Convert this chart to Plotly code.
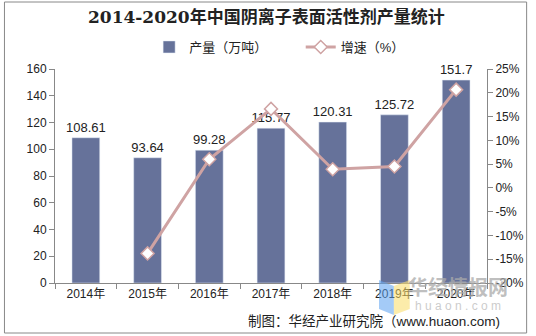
import plotly.graph_objects as go

years = ["2014年", "2015年", "2016年", "2017年", "2018年", "2019年", "2020年"]
output = [108.61, 93.64, 99.28, 115.77, 120.31, 125.72, 151.7]
output_labels = ["108.61", "93.64", "99.28", "115.77", "120.31", "125.72", "151.7"]
growth_years = ["2015年", "2016年", "2017年", "2018年", "2019年", "2020年"]
growth = [-13.78, 6.02, 16.61, 3.92, 4.50, 20.66]
pct_ticks = [-20, -15, -10, -5, 0, 5, 10, 15, 20, 25]
pct_labels = ["-20%", "-15%", "-10%", "-5%", "0%", "5%", "10%", "15%", "20%", "25%"]

BAR = "#66729A"
LINE = "#CFA3A3"
FONT = "Liberation Sans, Arial, Noto Sans CJK SC, sans-serif"

fig = go.Figure()
fig.add_trace(go.Bar(
    x=years, y=output, name="产量（万吨）", marker_color=BAR,
    text=output_labels, textposition="outside", cliponaxis=False, constraintext="none",
    textfont=dict(size=13, color="#222", family=FONT), legend="legend",
))
fig.add_trace(go.Scatter(
    x=growth_years, y=growth, name="增速（%）", yaxis="y2", mode="lines+markers",
    line=dict(color=LINE, width=3),
    marker=dict(symbol="diamond", size=10, color="white", line=dict(color=LINE, width=1.5)),
    cliponaxis=False, legend="legend2",
))

W, H = 536, 336
L, R, T, B = 55, 45, 69, 53
pw, ph = W - L - R, H - T - B
def px(x): return (x - L) / pw
def py(y): return (H - B - y) / ph

shapes = [
    dict(type="rect", xref="paper", yref="paper", x0=px(4), x1=px(531), y0=py(333), y1=py(2),
         line=dict(color="#888", width=1), layer="below"),
    dict(type="path", xref="paper", yref="paper",
         path=f"M {px(382)} {py(280)} L {px(397)} {py(286)} L {px(397)} {py(315)} L {px(382)} {py(309)} Z",
         fillcolor="rgba(90,160,240,0.55)", line=dict(width=0)),
    dict(type="path", xref="paper", yref="paper",
         path=f"M {px(397)} {py(286)} L {px(413)} {py(280)} L {px(413)} {py(309)} L {px(397)} {py(315)} Z",
         fillcolor="rgba(250,220,100,0.55)", line=dict(width=0)),
]

annotations = [
    dict(text="<b>2014-2020年中国阴离子表面活性剂产量统计</b>", xref="paper", yref="paper",
         x=px(268), y=py(17), xanchor="center", yanchor="middle", showarrow=False,
         font=dict(size=17, color="#222", family="DejaVu Serif, Noto Sans CJK SC, serif")),
    dict(text="<b>华经情报网</b>", xref="paper", yref="paper", x=px(462), y=py(286),
         xanchor="center", yanchor="middle", showarrow=False,
         font=dict(size=20, color="rgba(170,170,170,0.75)", family="Noto Sans CJK SC")),
    dict(text="h u a o n . c o m", xref="paper", yref="paper", x=px(462), y=py(306),
         xanchor="center", yanchor="middle", showarrow=False,
         font=dict(size=12, color="rgba(190,190,190,0.8)", family=FONT)),
    dict(text="制图：华经产业研究院（www.huaon.com)", xref="paper", yref="paper",
         x=px(506), y=py(321), xanchor="right", yanchor="middle", showarrow=False,
         font=dict(size=13.5, color="#222", family=FONT)),
]

fig.update_layout(
    width=W, height=H, margin=dict(l=L, r=R, t=T, b=B),
    paper_bgcolor="white", plot_bgcolor="white",
    font=dict(family=FONT, size=12, color="#222"),
    bargap=0.55, showlegend=True,
    legend=dict(orientation="h", x=px(150), y=py(47), xanchor="left", yanchor="middle",
                font=dict(size=13, color="#222"), itemwidth=30, bgcolor="rgba(0,0,0,0)"),
    legend2=dict(orientation="h", x=px(303), y=py(47), xanchor="left", yanchor="middle",
                 font=dict(size=13, color="#222"), itemwidth=30, bgcolor="rgba(0,0,0,0)"),
    xaxis=dict(type="category", categoryorder="array", categoryarray=years,
               showline=True, linecolor="#888", ticks="outside", tickson="boundaries",
               ticklen=5, tickcolor="#888", showgrid=False, tickfont=dict(size=12)),
    yaxis=dict(range=[0, 160], dtick=20, showline=True, linecolor="#888", ticks="outside",
               ticklen=5, tickcolor="#888", showgrid=False, zeroline=False, tickfont=dict(size=12)),
    yaxis2=dict(range=[-20, 25], tickvals=pct_ticks, ticktext=pct_labels, overlaying="y",
                side="right", showline=True, linecolor="#888", ticks="outside", ticklen=5,
                tickcolor="#888", showgrid=False, zeroline=False, tickfont=dict(size=12)),
    shapes=shapes, annotations=annotations,
)

fig.write_html("out.html")
